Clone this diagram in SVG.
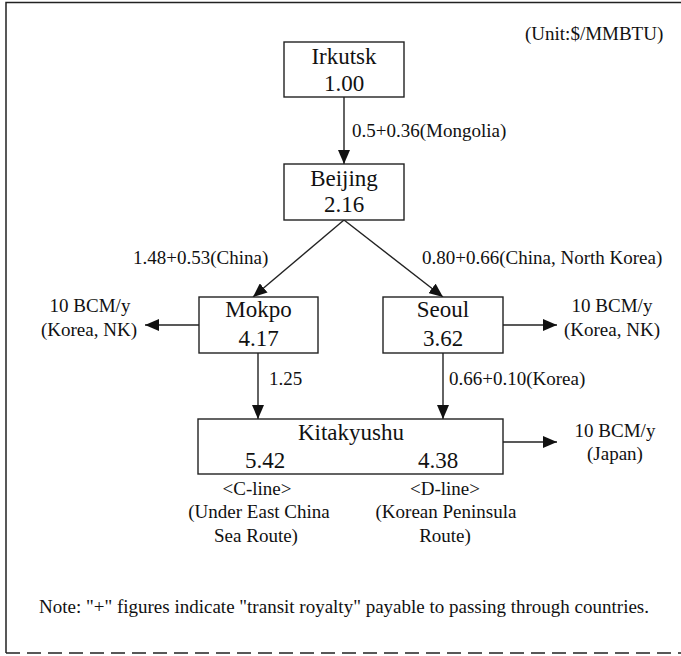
<svg xmlns="http://www.w3.org/2000/svg" width="681" height="656" viewBox="0 0 681 656">
  <style>
    text { font-family: "Liberation Serif", "Times New Roman", serif; fill: #111; }
    .name { font-size: 23px; text-anchor: middle; }
    .lbl { font-size: 19px; }
    .mid { text-anchor: middle; }
    .box { fill: #fff; stroke: #222; stroke-width: 1.4; }
    .edge { fill: none; stroke: #222; stroke-width: 1.4; marker-end: url(#head); }
    .frame { fill: none; stroke: #222; stroke-width: 1.5; }
  </style>
  <defs>
    <marker id="head" viewBox="0 0 14 12" refX="14" refY="6" markerWidth="14" markerHeight="12" markerUnits="userSpaceOnUse" orient="auto">
      <path d="M0,0 L14,6 L0,12 Z" fill="#111"/>
    </marker>
  </defs>

  <rect width="681" height="656" fill="#fff"/>

  <!-- outer frame: solid top and left, dashed bottom -->
  <g id="frame">
    <path class="frame" d="M6,653 L6,2.5 L681,2.5"/>
    <path class="frame" d="M6,653 L681,653" stroke-dasharray="14 7"/>
  </g>

  <text class="lbl" x="525" y="40">(Unit:$/MMBTU)</text>

  <!-- connectors -->
  <g id="connectors">
    <line class="edge" x1="344" y1="97" x2="344" y2="164"/>
    <line class="edge" x1="344" y1="220" x2="253" y2="297"/>
    <line class="edge" x1="344" y1="220" x2="443" y2="297"/>
    <line class="edge" x1="199" y1="325" x2="145" y2="325"/>
    <line class="edge" x1="503" y1="325" x2="557" y2="325"/>
    <line class="edge" x1="258" y1="353" x2="258" y2="419"/>
    <line class="edge" x1="443" y1="353" x2="443" y2="419"/>
    <line class="edge" x1="503" y1="442" x2="557" y2="442"/>

    <text class="lbl" x="352" y="137">0.5+0.36(Mongolia)</text>
    <text class="lbl" x="133" y="264">1.48+0.53(China)</text>
    <text class="lbl" x="422" y="264">0.80+0.66(China, North Korea)</text>
    <text class="lbl" x="269" y="385">1.25</text>
    <text class="lbl" x="449" y="385">0.66+0.10(Korea)</text>
  </g>

  <!-- nodes -->
  <g id="irkutsk">
    <rect class="box" x="284" y="42" width="120" height="55"/>
    <text class="name" x="344" y="64">Irkutsk</text>
    <text class="name" x="344" y="91">1.00</text>
  </g>

  <g id="beijing">
    <rect class="box" x="284" y="164" width="120" height="56"/>
    <text class="name" x="344" y="186">Beijing</text>
    <text class="name" x="344" y="212">2.16</text>
  </g>

  <g id="mokpo">
    <rect class="box" x="199" y="297" width="119" height="56"/>
    <text class="name" x="258.5" y="317">Mokpo</text>
    <text class="name" x="258.5" y="346">4.17</text>
  </g>

  <g id="seoul">
    <rect class="box" x="383" y="297" width="120" height="56"/>
    <text class="name" x="443" y="317">Seoul</text>
    <text class="name" x="443" y="346">3.62</text>
  </g>

  <g id="kitakyushu">
    <rect class="box" x="198" y="419" width="305" height="55"/>
    <text class="name" x="351" y="440">Kitakyushu</text>
    <text class="name" x="265" y="468">5.42</text>
    <text class="name" x="438" y="468">4.38</text>
  </g>

  <!-- supply outlets -->
  <g id="outlet-mokpo">
    <text class="lbl mid" x="90" y="312">10 BCM/y</text>
    <text class="lbl mid" x="89" y="336">(Korea, NK)</text>
  </g>
  <g id="outlet-seoul">
    <text class="lbl mid" x="612" y="312">10 BCM/y</text>
    <text class="lbl mid" x="612" y="336">(Korea, NK)</text>
  </g>
  <g id="outlet-japan">
    <text class="lbl mid" x="615" y="437">10 BCM/y</text>
    <text class="lbl mid" x="615" y="460">(Japan)</text>
  </g>

  <!-- route notes -->
  <g id="c-line">
    <text class="lbl mid" x="257" y="495">&lt;C-line&gt;</text>
    <text class="lbl mid" x="259" y="518">(Under East China</text>
    <text class="lbl mid" x="256" y="542">Sea Route)</text>
  </g>
  <g id="d-line">
    <text class="lbl mid" x="445" y="495">&lt;D-line&gt;</text>
    <text class="lbl mid" x="446" y="518">(Korean Peninsula</text>
    <text class="lbl mid" x="445" y="542">Route)</text>
  </g>

  <text class="lbl" x="39" y="613">Note: "+" figures indicate "transit royalty" payable to passing through countries.</text>
</svg>
